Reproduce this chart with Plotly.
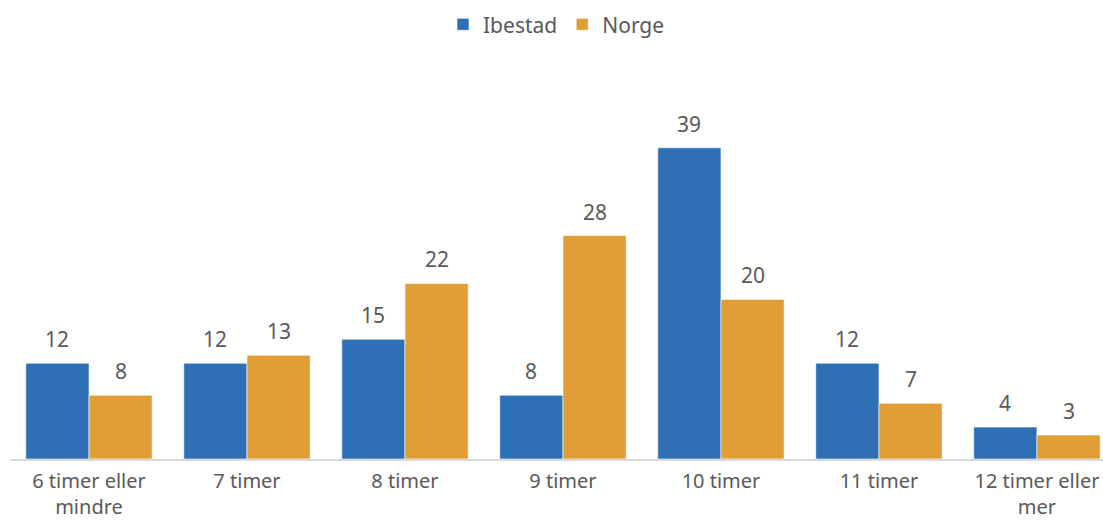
import plotly.graph_objects as go

categories = ["6 timer eller<br>mindre", "7 timer", "8 timer", "9 timer", "10 timer", "11 timer", "12 timer eller<br>mer"]
ibestad = [12, 12, 15, 8, 39, 12, 4]
norge = [8, 13, 22, 28, 20, 7, 3]

BLUE = "#2E6FB5"
ORANGE = "#E09F36"
TXT = "#595959"
FONT = "Noto Sans"
FS = 21

fig = go.Figure()
fig.add_trace(go.Bar(name="Ibestad", x=categories, y=ibestad,
                     marker=dict(color=BLUE, line=dict(color="rgba(255,255,255,0.6)", width=1))))
fig.add_trace(go.Bar(name="Norge", x=categories, y=norge,
                     marker=dict(color=ORANGE, line=dict(color="rgba(255,255,255,0.6)", width=1))))

# value labels placed above each bar
half_bar_px = 31.6
for c, v in zip(categories, ibestad):
    fig.add_annotation(x=c, y=v, text=str(v), showarrow=False, xshift=-half_bar_px, yshift=8,
                       yanchor="bottom", font=dict(size=FS, color=TXT, family=FONT))
for c, v in zip(categories, norge):
    fig.add_annotation(x=c, y=v, text=str(v), showarrow=False, xshift=half_bar_px, yshift=8,
                       yanchor="bottom", font=dict(size=FS, color=TXT, family=FONT))

fig.update_layout(
    width=1103, height=521,
    margin=dict(l=10, r=0, t=60, b=62, autoexpand=False),
    paper_bgcolor="white", plot_bgcolor="white",
    barmode="group", bargap=0.2, bargroupgap=0,
    font=dict(family=FONT, size=FS, color=TXT),
    legend=dict(orientation="h", x=0.5, xanchor="center", y=0.992, yref="container", yanchor="top",
                font=dict(size=FS, color=TXT, family=FONT), itemwidth=30, traceorder="normal"),
    showlegend=True,
)
fig.update_xaxes(range=[-0.5, 6.418], showline=True, linecolor="#D9D9D9", linewidth=2, ticks="",
                 ticklabelstandoff=3, automargin=False,
                 tickfont=dict(size=20, color=TXT, family=FONT), showgrid=False, fixedrange=True)
fig.update_yaxes(range=[0, 50], visible=False, showgrid=False, zeroline=False, automargin=False, fixedrange=True)

fig.write_html("out.html", config={"displayModeBar": False},
               post_script="document.body.style.margin='0';document.body.style.overflow='hidden';")
